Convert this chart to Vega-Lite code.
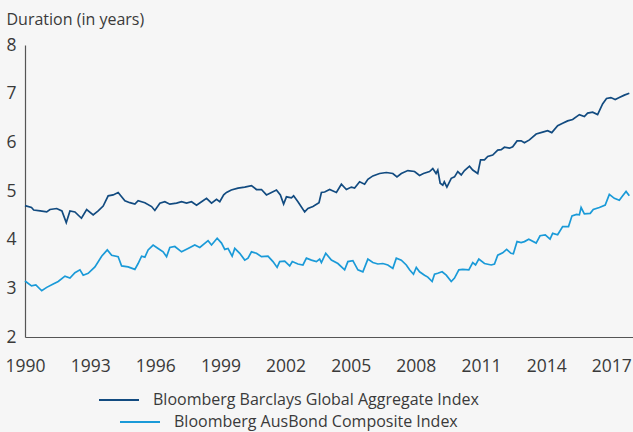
{
  "$schema": "https://vega.github.io/schema/vega-lite/v6.json",
  "autosize": "none",
  "width": 608,
  "height": 292,
  "padding": {"left": 25, "top": 45, "right": 0, "bottom": 95},
  "background": "#f6f6f6",
  "config": {
    "view": {"stroke": null},
    "font": "Open Sans",
    "axis": {"grid": false, "ticks": false, "domainColor": "#555555", "domainWidth": 1.2, "labelColor": "#3a3a3a", "labelFont": "Open Sans", "titleFont": "Open Sans"},
    "legend": {"labelFont": "Open Sans", "labelFontSize": 16, "labelColor": "#3a3a3a", "labelLimit": 600, "symbolType": "stroke", "symbolSize": 1600, "symbolStrokeWidth": 2, "labelOffset": 13, "padding": 0, "title": null}
  },
  "datasets": {
    "global": [
      {"year": 1990.0, "v": 4.70}, {"year": 1990.3, "v": 4.66}, {"year": 1990.4, "v": 4.61}, {"year": 1990.7, "v": 4.59},
      {"year": 1991.0, "v": 4.57}, {"year": 1991.15, "v": 4.62}, {"year": 1991.46, "v": 4.64}, {"year": 1991.7, "v": 4.59},
      {"year": 1991.9, "v": 4.35}, {"year": 1992.07, "v": 4.59}, {"year": 1992.3, "v": 4.57}, {"year": 1992.6, "v": 4.44},
      {"year": 1992.84, "v": 4.62}, {"year": 1993.14, "v": 4.51}, {"year": 1993.37, "v": 4.59}, {"year": 1993.6, "v": 4.69},
      {"year": 1993.83, "v": 4.90}, {"year": 1994.06, "v": 4.92}, {"year": 1994.29, "v": 4.97}, {"year": 1994.6, "v": 4.80},
      {"year": 1994.83, "v": 4.76}, {"year": 1995.06, "v": 4.73}, {"year": 1995.21, "v": 4.80}, {"year": 1995.52, "v": 4.76},
      {"year": 1995.83, "v": 4.68}, {"year": 1995.98, "v": 4.60}, {"year": 1996.21, "v": 4.75}, {"year": 1996.44, "v": 4.78},
      {"year": 1996.67, "v": 4.73}, {"year": 1996.98, "v": 4.75}, {"year": 1997.21, "v": 4.78}, {"year": 1997.44, "v": 4.75},
      {"year": 1997.67, "v": 4.78}, {"year": 1997.9, "v": 4.71}, {"year": 1998.13, "v": 4.78}, {"year": 1998.36, "v": 4.85},
      {"year": 1998.59, "v": 4.75}, {"year": 1998.82, "v": 4.83}, {"year": 1998.97, "v": 4.78}, {"year": 1999.15, "v": 4.92},
      {"year": 1999.28, "v": 4.97}, {"year": 1999.5, "v": 5.02}, {"year": 1999.81, "v": 5.06}, {"year": 2000.12, "v": 5.08},
      {"year": 2000.43, "v": 5.11}, {"year": 2000.66, "v": 5.03}, {"year": 2000.89, "v": 5.03}, {"year": 2001.12, "v": 4.92},
      {"year": 2001.35, "v": 4.97}, {"year": 2001.58, "v": 5.02}, {"year": 2001.76, "v": 4.92}, {"year": 2001.91, "v": 4.73},
      {"year": 2002.04, "v": 4.88}, {"year": 2002.27, "v": 4.86}, {"year": 2002.37, "v": 4.90}, {"year": 2002.57, "v": 4.78},
      {"year": 2002.88, "v": 4.57}, {"year": 2003.03, "v": 4.64}, {"year": 2003.26, "v": 4.68}, {"year": 2003.54, "v": 4.76},
      {"year": 2003.65, "v": 4.97}, {"year": 2003.8, "v": 4.98}, {"year": 2004.03, "v": 5.03}, {"year": 2004.34, "v": 4.97},
      {"year": 2004.57, "v": 5.14}, {"year": 2004.8, "v": 5.03}, {"year": 2005.03, "v": 5.08}, {"year": 2005.18, "v": 5.06},
      {"year": 2005.41, "v": 5.19}, {"year": 2005.64, "v": 5.14}, {"year": 2005.79, "v": 5.24}, {"year": 2006.02, "v": 5.31},
      {"year": 2006.33, "v": 5.36}, {"year": 2006.64, "v": 5.38}, {"year": 2006.94, "v": 5.36}, {"year": 2007.13, "v": 5.29},
      {"year": 2007.33, "v": 5.36}, {"year": 2007.63, "v": 5.42}, {"year": 2007.94, "v": 5.40}, {"year": 2008.17, "v": 5.32},
      {"year": 2008.35, "v": 5.36}, {"year": 2008.63, "v": 5.40}, {"year": 2008.78, "v": 5.46}, {"year": 2008.93, "v": 5.36},
      {"year": 2009.01, "v": 5.43}, {"year": 2009.12, "v": 5.16}, {"year": 2009.24, "v": 5.12}, {"year": 2009.31, "v": 5.19},
      {"year": 2009.43, "v": 5.08}, {"year": 2009.63, "v": 5.26}, {"year": 2009.78, "v": 5.29}, {"year": 2009.93, "v": 5.40},
      {"year": 2010.09, "v": 5.33}, {"year": 2010.24, "v": 5.42}, {"year": 2010.47, "v": 5.51}, {"year": 2010.62, "v": 5.43},
      {"year": 2010.85, "v": 5.36}, {"year": 2010.98, "v": 5.64}, {"year": 2011.16, "v": 5.64}, {"year": 2011.31, "v": 5.71},
      {"year": 2011.54, "v": 5.74}, {"year": 2011.77, "v": 5.84}, {"year": 2011.93, "v": 5.85}, {"year": 2012.08, "v": 5.90},
      {"year": 2012.31, "v": 5.88}, {"year": 2012.46, "v": 5.91}, {"year": 2012.66, "v": 6.03}, {"year": 2012.85, "v": 6.03},
      {"year": 2013.0, "v": 5.99}, {"year": 2013.23, "v": 6.05}, {"year": 2013.54, "v": 6.17}, {"year": 2013.84, "v": 6.21},
      {"year": 2014.07, "v": 6.24}, {"year": 2014.26, "v": 6.20}, {"year": 2014.53, "v": 6.34}, {"year": 2014.76, "v": 6.39},
      {"year": 2014.99, "v": 6.44}, {"year": 2015.22, "v": 6.47}, {"year": 2015.53, "v": 6.57}, {"year": 2015.76, "v": 6.53},
      {"year": 2015.91, "v": 6.60}, {"year": 2016.14, "v": 6.62}, {"year": 2016.37, "v": 6.57}, {"year": 2016.6, "v": 6.79},
      {"year": 2016.78, "v": 6.90}, {"year": 2016.98, "v": 6.92}, {"year": 2017.18, "v": 6.88}, {"year": 2017.37, "v": 6.92},
      {"year": 2017.6, "v": 6.97}, {"year": 2017.83, "v": 7.01}
    ],
    "ausbond": [
      {"year": 1990.0, "v": 3.15}, {"year": 1990.3, "v": 3.05}, {"year": 1990.5, "v": 3.07}, {"year": 1990.77, "v": 2.95},
      {"year": 1991.0, "v": 3.02}, {"year": 1991.3, "v": 3.09}, {"year": 1991.53, "v": 3.14}, {"year": 1991.84, "v": 3.25},
      {"year": 1992.07, "v": 3.21}, {"year": 1992.3, "v": 3.32}, {"year": 1992.53, "v": 3.38}, {"year": 1992.68, "v": 3.27},
      {"year": 1992.91, "v": 3.31}, {"year": 1993.22, "v": 3.44}, {"year": 1993.53, "v": 3.66}, {"year": 1993.79, "v": 3.79},
      {"year": 1993.99, "v": 3.68}, {"year": 1994.29, "v": 3.65}, {"year": 1994.45, "v": 3.46}, {"year": 1994.75, "v": 3.44},
      {"year": 1995.06, "v": 3.39}, {"year": 1995.21, "v": 3.51}, {"year": 1995.37, "v": 3.66}, {"year": 1995.52, "v": 3.64},
      {"year": 1995.67, "v": 3.79}, {"year": 1995.9, "v": 3.89}, {"year": 1996.13, "v": 3.82}, {"year": 1996.36, "v": 3.75},
      {"year": 1996.52, "v": 3.65}, {"year": 1996.67, "v": 3.84}, {"year": 1996.9, "v": 3.86}, {"year": 1997.21, "v": 3.75},
      {"year": 1997.51, "v": 3.82}, {"year": 1997.82, "v": 3.89}, {"year": 1998.05, "v": 3.84}, {"year": 1998.43, "v": 3.98},
      {"year": 1998.59, "v": 3.89}, {"year": 1998.85, "v": 4.03}, {"year": 1999.05, "v": 3.93}, {"year": 1999.2, "v": 3.80},
      {"year": 1999.35, "v": 3.82}, {"year": 1999.54, "v": 3.66}, {"year": 1999.66, "v": 3.82}, {"year": 1999.89, "v": 3.72},
      {"year": 2000.12, "v": 3.58}, {"year": 2000.27, "v": 3.62}, {"year": 2000.43, "v": 3.75}, {"year": 2000.66, "v": 3.72},
      {"year": 2000.89, "v": 3.65}, {"year": 2001.19, "v": 3.66}, {"year": 2001.42, "v": 3.55}, {"year": 2001.61, "v": 3.43},
      {"year": 2001.73, "v": 3.55}, {"year": 2001.96, "v": 3.56}, {"year": 2002.19, "v": 3.46}, {"year": 2002.31, "v": 3.55},
      {"year": 2002.57, "v": 3.50}, {"year": 2002.8, "v": 3.48}, {"year": 2002.96, "v": 3.62}, {"year": 2003.19, "v": 3.58},
      {"year": 2003.42, "v": 3.55}, {"year": 2003.57, "v": 3.60}, {"year": 2003.65, "v": 3.53}, {"year": 2003.85, "v": 3.72},
      {"year": 2004.11, "v": 3.58}, {"year": 2004.41, "v": 3.51}, {"year": 2004.72, "v": 3.38}, {"year": 2004.87, "v": 3.55},
      {"year": 2005.1, "v": 3.57}, {"year": 2005.33, "v": 3.38}, {"year": 2005.56, "v": 3.34}, {"year": 2005.79, "v": 3.60},
      {"year": 2006.02, "v": 3.53}, {"year": 2006.25, "v": 3.50}, {"year": 2006.48, "v": 3.51}, {"year": 2006.71, "v": 3.48},
      {"year": 2006.94, "v": 3.41}, {"year": 2007.1, "v": 3.62}, {"year": 2007.33, "v": 3.58}, {"year": 2007.56, "v": 3.48},
      {"year": 2007.71, "v": 3.38}, {"year": 2007.89, "v": 3.29}, {"year": 2008.02, "v": 3.43}, {"year": 2008.17, "v": 3.34},
      {"year": 2008.4, "v": 3.27}, {"year": 2008.55, "v": 3.23}, {"year": 2008.75, "v": 3.14}, {"year": 2008.86, "v": 3.29},
      {"year": 2009.01, "v": 3.31}, {"year": 2009.21, "v": 3.34}, {"year": 2009.4, "v": 3.27}, {"year": 2009.63, "v": 3.14},
      {"year": 2009.78, "v": 3.21}, {"year": 2009.98, "v": 3.38}, {"year": 2010.16, "v": 3.39}, {"year": 2010.44, "v": 3.38},
      {"year": 2010.62, "v": 3.53}, {"year": 2010.75, "v": 3.48}, {"year": 2010.9, "v": 3.60}, {"year": 2011.16, "v": 3.51},
      {"year": 2011.47, "v": 3.48}, {"year": 2011.62, "v": 3.50}, {"year": 2011.77, "v": 3.68}, {"year": 2012.0, "v": 3.73},
      {"year": 2012.18, "v": 3.80}, {"year": 2012.38, "v": 3.72}, {"year": 2012.49, "v": 3.71}, {"year": 2012.66, "v": 3.96},
      {"year": 2012.85, "v": 3.94}, {"year": 2013.0, "v": 3.96}, {"year": 2013.2, "v": 4.01}, {"year": 2013.54, "v": 3.93},
      {"year": 2013.72, "v": 4.08}, {"year": 2013.96, "v": 4.10}, {"year": 2014.18, "v": 4.01}, {"year": 2014.3, "v": 4.13},
      {"year": 2014.53, "v": 4.10}, {"year": 2014.76, "v": 4.27}, {"year": 2015.03, "v": 4.27}, {"year": 2015.19, "v": 4.49},
      {"year": 2015.4, "v": 4.52}, {"year": 2015.53, "v": 4.51}, {"year": 2015.61, "v": 4.66}, {"year": 2015.76, "v": 4.53},
      {"year": 2016.03, "v": 4.54}, {"year": 2016.17, "v": 4.62}, {"year": 2016.45, "v": 4.66}, {"year": 2016.72, "v": 4.71},
      {"year": 2016.91, "v": 4.93}, {"year": 2017.14, "v": 4.85}, {"year": 2017.37, "v": 4.81}, {"year": 2017.49, "v": 4.88},
      {"year": 2017.68, "v": 4.99}, {"year": 2017.83, "v": 4.90}
    ]
  },
  "encoding": {
    "x": {
      "field": "year", "type": "quantitative",
      "scale": {"domain": [1990, 2018], "nice": false, "zero": false},
      "axis": {"values": [1990, 1993, 1996, 1999, 2002, 2005, 2008, 2011, 2014, 2017], "format": "d", "title": null, "labelFontSize": 17.5, "labelPadding": 20, "labelFlush": false}
    },
    "y": {
      "field": "v", "type": "quantitative",
      "scale": {"domain": [2, 8], "nice": false, "zero": false},
      "axis": {"values": [2, 3, 4, 5, 6, 7, 8], "labelFontSize": 17.5, "labelPadding": 9, "title": "Duration (in years)", "titleAngle": 0, "titleAlign": "left", "titleBaseline": "alphabetic", "titleX": -19, "titleY": -21, "titleFontSize": 16, "titleFontWeight": "normal", "titleColor": "#3a3a3a"}
    }
  },
  "layer": [
    {
      "data": {"name": "global"},
      "transform": [{"calculate": "'Bloomberg Barclays Global Aggregate Index'", "as": "series"}],
      "mark": {"type": "line", "strokeWidth": 1.7, "interpolate": "linear"},
      "encoding": {
        "color": {"field": "series", "type": "nominal",
          "scale": {"domain": ["Bloomberg Barclays Global Aggregate Index"], "range": ["#124b80"]},
          "legend": {"orient": "none", "legendX": 73, "legendY": 334}}
      }
    },
    {
      "data": {"name": "ausbond"},
      "transform": [{"calculate": "'Bloomberg AusBond Composite Index'", "as": "series2"}],
      "mark": {"type": "line", "strokeWidth": 1.7, "interpolate": "linear"},
      "encoding": {
        "color": {"field": "series2", "type": "nominal",
          "scale": {"domain": ["Bloomberg AusBond Composite Index"], "range": ["#1a9ad8"]},
          "legend": {"orient": "none", "legendX": 94, "legendY": 356}}
      }
    }
  ],
  "resolve": {"scale": {"color": "independent"}, "legend": {"color": "independent"}}
}
